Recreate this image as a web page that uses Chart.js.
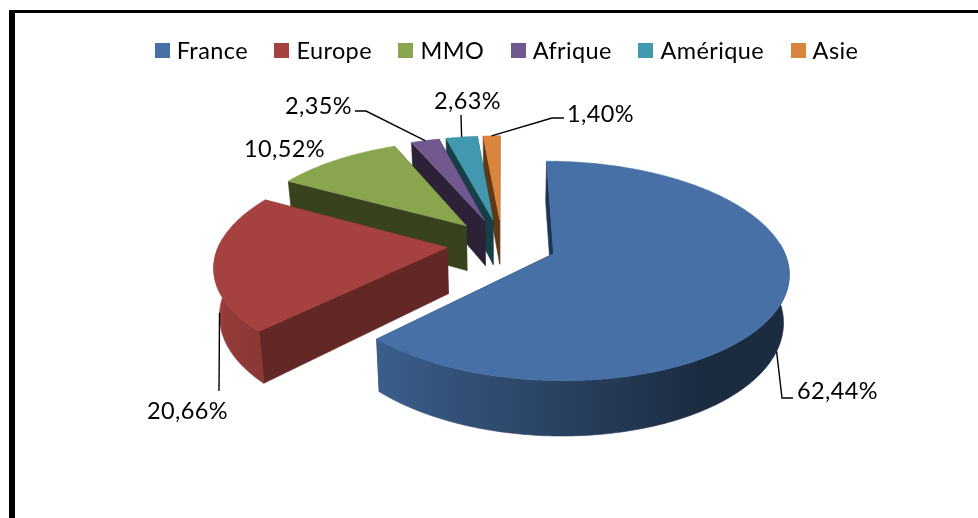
<!DOCTYPE html>
<html lang="fr">
<head>
<meta charset="utf-8">
<title>Répartition</title>
<script src="https://cdn.jsdelivr.net/npm/chart.js@4"></script>
<style>
  html, body { margin: 0; padding: 0; background: #fff; overflow: hidden; }
  #frame { position: absolute; left: 9px; top: 10px; width: 969px; height: 508px;
           border-left: 6px solid #000; border-top: 3px solid #000; box-sizing: border-box; }
  #pie { position: absolute; left: 0; top: 0; }
</style>
</head>
<body>
<div id="frame"></div>
<canvas id="pie" width="978" height="518"></canvas>
<script>
/* ===== données ===== */
const categories = ["France", "Europe", "MMO", "Afrique", "Amérique", "Asie"];
const shares = [62.44, 20.66, 10.52, 2.35, 2.63, 1.40];

/* ===== couleurs ===== */
const topColors = ["#4670a6", "#a54240", "#89a54e", "#71588f", "#4198af", "#db843d"];
const cutColors = ["#1b3558", "#632726", "#38431d", "#2c2137", "#183e48", "#5e3815"];

/* ===== emplacement des étiquettes (annotation, pas de la donnée) ===== */
const labelSpots = [[797, 391], [147, 411], [244, 149], [285, 106], [434, 101], [567, 114]];
const leaderBends = [
  [[782, 398], [793, 398]],
  [[219, 391]],
  [],
  [[366, 111], [355, 111]],
  [[461, 115]],
  [[552, 118], [564, 118]]
];
const leaderAnchors = [0.51, 0.48, 0.5, 0.5, 0.5, 0.5];

/* ===== projection perspective du disque ===== */
const TILT = 0.456;
const PERSP = 0.155;
const DEPTH = 46;
const BOTTOM_SHRINK = 0.02;   // le bas de la part, plus loin, est un peu plus étroit

function project(arc, u, v, drop) {
  const k = 1 / (1 - PERSP * v);
  const r = arc.outerRadius;
  const shrink = 1 - BOTTOM_SHRINK * drop / DEPTH;
  return {
    x: arc.x + r * u * k * shrink,
    y: arc.y + r * TILT * v * k + drop * k
  };
}

// point du plan pour un angle donné, décalé par l'éclatement de la part
function rimPoint(arc, a, radial) {
  const mid = (arc.startAngle + arc.endAngle) / 2;
  const e = arc.options.offset / arc.outerRadius;
  return {
    u: e * Math.cos(mid) + radial * Math.cos(a),
    v: e * Math.sin(mid) + radial * Math.sin(a)
  };
}

function polygon(ctx, pts, fill) {
  ctx.beginPath();
  pts.forEach((p, i) => (i ? ctx.lineTo(p.x, p.y) : ctx.moveTo(p.x, p.y)));
  ctx.closePath();
  ctx.fillStyle = fill;
  ctx.strokeStyle = fill;
  ctx.lineWidth = 0.6;
  ctx.fill();
  ctx.stroke();
}

function shade(hex, f) {
  const r = parseInt(hex.slice(1, 3), 16);
  const g = parseInt(hex.slice(3, 5), 16);
  const b = parseInt(hex.slice(5, 7), 16);
  return `rgb(${Math.round(r * f)},${Math.round(g * f)},${Math.round(b * f)})`;
}

function drawCut(ctx, arc, a, color) {
  const c = rimPoint(arc, a, 0);
  const o = rimPoint(arc, a, 1);
  polygon(ctx, [
    project(arc, c.u, c.v, 0),
    project(arc, o.u, o.v, 0),
    project(arc, o.u, o.v, DEPTH),
    project(arc, c.u, c.v, DEPTH)
  ], color);
}

// paroi extérieure : un seul tracé, dégradé horizontal suivant l'angle
function drawWall(ctx, arc, color) {
  const step = Math.PI / 180;
  const angles = [];
  for (let a = arc.startAngle; a < arc.endAngle; a += step) {
    if (Math.sin(a) >= -0.1) angles.push(a);
  }
  if (Math.sin(arc.endAngle) >= -0.1) angles.push(arc.endAngle);
  if (angles.length < 2) return;

  const upper = angles.map(a => {
    const p = rimPoint(arc, a, 1);
    return project(arc, p.u, p.v, 0);
  });
  const lower = angles.map(a => {
    const p = rimPoint(arc, a, 1);
    return project(arc, p.u, p.v, DEPTH);
  });
  const x0 = upper[0].x;
  const x1 = upper[upper.length - 1].x;
  const grad = ctx.createLinearGradient(x0, 0, x1, 0);
  let prev = 0;
  angles.forEach((a, i) => {
    const t = Math.min(1, Math.max(prev, (upper[i].x - x0) / (x1 - x0)));
    prev = t;
    grad.addColorStop(t, shade(color, Math.max(0.39, 0.58 - 0.37 * Math.cos(a))));
  });
  polygon(ctx, upper.concat(lower.reverse()), grad);
}

function drawSlice(ctx, arc, i) {
  const step = Math.PI / 180;

  drawCut(ctx, arc, arc.startAngle, cutColors[i]);
  drawCut(ctx, arc, arc.endAngle, cutColors[i]);
  drawWall(ctx, arc, topColors[i]);

  // dessus de la part
  const pts = [];
  const c = rimPoint(arc, 0, 0);
  pts.push(project(arc, c.u, c.v, 0));
  for (let a = arc.startAngle; a < arc.endAngle; a += step) {
    const p = rimPoint(arc, a, 1);
    pts.push(project(arc, p.u, p.v, 0));
  }
  const last = rimPoint(arc, arc.endAngle, 1);
  pts.push(project(arc, last.u, last.v, 0));
  polygon(ctx, pts, topColors[i]);
}

/* ===== plugin : parts en 3D ===== */
const pie3dPlugin = {
  id: "pie3d",
  beforeDatasetDraw(chart, args) {
    const ctx = chart.ctx;
    const arcs = args.meta.data;
    ctx.save();
    // de l'arrière vers l'avant
    for (let i = arcs.length - 1; i >= 0; i--) {
      drawSlice(ctx, arcs[i], i);
    }
    ctx.restore();
    return false;
  },
  afterDatasetsDraw(chart) {
    const ctx = chart.ctx;
    const arcs = chart.getDatasetMeta(0).data;
    ctx.save();
    ctx.font = "23.5px Lato, sans-serif";
    ctx.letterSpacing = "0.4px";
    ctx.textBaseline = "middle";
    ctx.textAlign = "left";

    arcs.forEach((arc, i) => {
      const bends = leaderBends[i];
      if (bends.length) {
        const a = arc.startAngle + leaderAnchors[i] * (arc.endAngle - arc.startAngle);
        const m = rimPoint(arc, a, 1);
        const start = project(arc, m.u, m.v, Math.sin(a) > 0 ? DEPTH : 0);
        ctx.beginPath();
        ctx.moveTo(start.x, start.y);
        bends.forEach(b => ctx.lineTo(b[0], b[1]));
        ctx.strokeStyle = "#000";
        ctx.lineWidth = 1.4;
        ctx.stroke();
      }
      const text = shares[i].toFixed(2).replace(".", ",") + "%";
      ctx.fillStyle = "#000";
      ctx.fillText(text, labelSpots[i][0], labelSpots[i][1]);
    });

    // légende
    const boxSize = 15, boxGap = 7, itemGap = 26.5, legendMid = 506.5, legendY = 50;
    const widths = categories.map(c => ctx.measureText(c).width);
    let total = itemGap * (categories.length - 1);
    widths.forEach(w => { total += boxSize + boxGap + w; });
    let x = legendMid - total / 2;
    categories.forEach((c, i) => {
      ctx.fillStyle = topColors[i];
      ctx.fillRect(Math.round(x), legendY - 7, boxSize, boxSize);
      ctx.fillStyle = "#000";
      ctx.fillText(c, x + boxSize + boxGap, legendY + 1);
      x += boxSize + boxGap + widths[i] + itemGap;
    });
    ctx.restore();
  }
};

new Chart(document.getElementById("pie"), {
  type: "pie",
  data: {
    labels: categories,
    datasets: [{
      data: shares,
      backgroundColor: topColors,
      borderWidth: 0,
      offset: 55
    }]
  },
  options: {
    responsive: false,
    animation: false,
    radius: 228,
    layout: { padding: { left: 26, right: 0, top: 0, bottom: 30 } },
    plugins: {
      legend: { display: false },
      tooltip: { enabled: false }
    }
  },
  plugins: [pie3dPlugin]
});
</script>
</body>
</html>
